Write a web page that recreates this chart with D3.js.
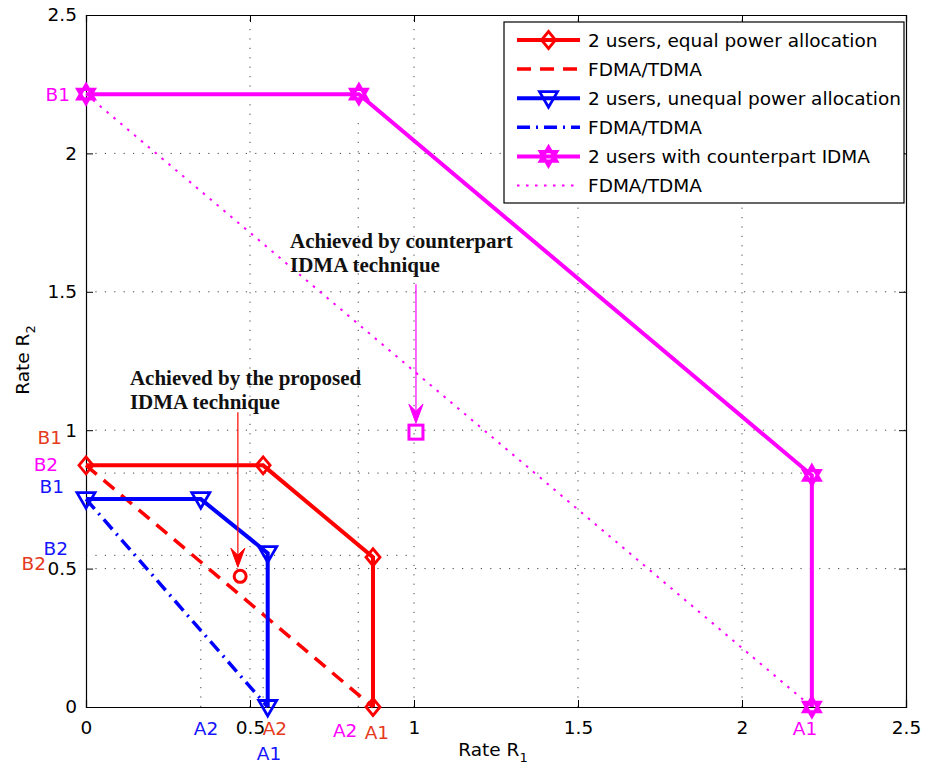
<!DOCTYPE html>
<html><head><meta charset="utf-8">
<script src="https://cdn.jsdelivr.net/npm/d3@7"></script>
<style>
body{margin:0;background:#fff;}
svg{display:block;}
</style></head>
<body>
<svg id="chart" width="925" height="771"></svg>
<script>
// ---------- data ----------
const xTicks = [0, 0.5, 1, 1.5, 2, 2.5];
const yTicks = [0, 0.5, 1, 1.5, 2, 2.5];
const xTickLabels = ["0", "0.5", "1", "1.5", "2", "2.5"];
const yTickLabels = ["0", "0.5", "1", "1.5", "2", "2.5"];

const equalX = [0, 0.54, 0.875, 0.875];
const equalY = [0.873, 0.873, 0.541, 0];
const equalFdmaX = [0, 0.875];
const equalFdmaY = [0.873, 0];

const unequalX = [0, 0.35, 0.554, 0.554];
const unequalY = [0.751, 0.751, 0.556, 0];
const unequalFdmaX = [0, 0.554];
const unequalFdmaY = [0.751, 0];

const counterX = [0, 0.832, 2.213, 2.213];
const counterY = [2.214, 2.214, 0.837, 0];
const counterFdmaX = [0, 2.213];
const counterFdmaY = [2.214, 0];

const proposedPoint = [0.47, 0.472];
const counterPoint = [1.006, 0.993];

const legendLabels = ["2 users, equal power allocation", "FDMA/TDMA",
  "2 users, unequal power allocation", "FDMA/TDMA",
  "2 users with counterpart IDMA", "FDMA/TDMA"];

const extraGridX = [0.35, 0.54, 0.83];
const extraGridXTop = [0.72, 0.85, 2.12];
const extraGridY = [0.845, 0.548];
const extraGridYRight = [2.2, 1.0];

const pointLabelText = ["B1", "B1", "B2", "B1", "B2", "B2", "A2", "A2", "A1", "A2", "A1", "A1"];
const pointLabelSeries = ["c", "e", "c", "u", "u", "e", "u", "e", "u", "c", "e", "c"];
const pointLabelX = [-0.049, -0.073, -0.085, -0.067, -0.055, -0.122, 0.366, 0.576, 0.558, 0.79, 0.887, 2.192];
const pointLabelY = [2.214, 0.975, 0.877, 0.798, 0.574, 0.519, -0.077, -0.077, -0.167, -0.084, -0.091, -0.077];
const pointLabelAnchor = ["end", "end", "end", "end", "end", "end", "middle", "middle", "middle", "middle", "middle", "middle"];

// ---------- setup ----------
const svg = d3.select("#chart");
const W = 925, H = 771;
const m = {left: 86, right: 19, top: 15, bottom: 64};
const x = d3.scaleLinear().domain([0, 2.5]).range([m.left, W - m.right]);
const y = d3.scaleLinear().domain([0, 2.5]).range([H - m.bottom, m.top]);

const colors = {e: "#ff0000", u: "#0000ff", c: "#ff00ff"};
const labelColors = {e: "#e53a1c", u: "#1414ff", c: "#ff00ff"};
const sansFont = "'DejaVu Sans', Arial, sans-serif";

// ---------- grid ----------
const grid = svg.append("g").attr("stroke", "#444").attr("stroke-width", 1)
  .attr("stroke-dasharray", "1.2,8.2");
xTicks.slice(1, -1).forEach(v => grid.append("line")
  .attr("x1", x(v)).attr("x2", x(v)).attr("y1", y(0)).attr("y2", y(2.5)));
yTicks.slice(1, -1).forEach(v => grid.append("line")
  .attr("x1", x(0)).attr("x2", x(2.5)).attr("y1", y(v)).attr("y2", y(v)));
extraGridX.forEach((v, i) => grid.append("line")
  .attr("x1", x(v)).attr("x2", x(v)).attr("y1", y(0)).attr("y2", y(extraGridXTop[i])));
extraGridY.forEach((v, i) => grid.append("line")
  .attr("x1", x(0)).attr("x2", x(extraGridYRight[i])).attr("y1", y(v)).attr("y2", y(v)));

// ---------- axes ----------
function styleAxis(g, showText) {
  g.select(".domain").attr("stroke", "#000").attr("stroke-width", 1.2);
  g.selectAll(".tick line").attr("stroke", "#000");
  g.selectAll(".tick text").attr("font-family", sansFont).attr("font-size", 18.5).attr("fill", "#000");
  if (!showText) g.selectAll(".tick text").remove();
}
svg.append("g").attr("transform", `translate(0,${y(0)})`)
  .call(d3.axisBottom(x).tickValues(xTicks).tickSize(-7).tickPadding(14)
    .tickFormat((d, i) => xTickLabels[i]))
  .call(g => styleAxis(g, true));
svg.append("g").attr("transform", `translate(0,${y(2.5)})`)
  .call(d3.axisTop(x).tickValues(xTicks).tickSize(-7))
  .call(g => styleAxis(g, false));
svg.append("g").attr("transform", `translate(${x(0)},0)`)
  .call(d3.axisLeft(y).tickValues(yTicks).tickSize(-7).tickPadding(9)
    .tickFormat((d, i) => yTickLabels[i]))
  .call(g => styleAxis(g, true));
svg.append("g").attr("transform", `translate(${x(2.5)},0)`)
  .call(d3.axisRight(y).tickValues(yTicks).tickSize(-7))
  .call(g => styleAxis(g, false));

// axis titles
const xt = svg.append("text").attr("x", 493).attr("y", 756).attr("text-anchor", "middle")
  .attr("font-family", sansFont).attr("font-size", 18.5);
xt.append("tspan").text("Rate R");
xt.append("tspan").attr("font-size", 13).attr("dy", 6).text("1");
const yt = svg.append("text").attr("transform", "translate(29,360) rotate(-90)")
  .attr("text-anchor", "middle").attr("font-family", sansFont).attr("font-size", 18.5);
yt.append("tspan").text("Rate R");
yt.append("tspan").attr("font-size", 13).attr("dy", 6).text("2");

// ---------- markers ----------
function diamond(g, cx, cy, col) {
  g.append("path").attr("d", `M${cx},${cy - 8.5}L${cx + 7},${cy}L${cx},${cy + 8.5}L${cx - 7},${cy}Z`)
    .attr("fill", "none").attr("stroke", col).attr("stroke-width", 2.8);
}
function triDown(g, cx, cy, col) {
  g.append("path").attr("d", `M${cx - 9},${cy - 6.5}L${cx + 9},${cy - 6.5}L${cx},${cy + 9}Z`)
    .attr("fill", "none").attr("stroke", col).attr("stroke-width", 2.8);
}
function hexagram(g, cx, cy, col) {
  const r = 9.5;
  const pt = a => [cx + r * Math.cos(a * Math.PI / 180), cy + r * Math.sin(a * Math.PI / 180)];
  const t1 = [-90, 30, 150].map(pt), t2 = [90, 210, 330].map(pt);
  const p = t => "M" + t.map(q => q.join(",")).join("L") + "Z";
  g.append("path").attr("d", p(t1) + p(t2))
    .attr("fill", "none").attr("stroke", col).attr("stroke-width", 3.2).attr("stroke-linejoin", "miter");
}

const line = d3.line().x(d => x(d[0])).y(d => y(d[1]));
const zip = (a, b) => a.map((v, i) => [v, b[i]]);
const plot = svg.append("g");

// FDMA lines
plot.append("path").attr("d", line(zip(counterFdmaX, counterFdmaY))).attr("fill", "none")
  .attr("stroke", colors.c).attr("stroke-width", 2).attr("stroke-dasharray", "2.5,6.5");
plot.append("path").attr("d", line(zip(equalFdmaX, equalFdmaY))).attr("fill", "none")
  .attr("stroke", colors.e).attr("stroke-width", 3.5).attr("stroke-dasharray", "14,9");
plot.append("path").attr("d", line(zip(unequalFdmaX, unequalFdmaY))).attr("fill", "none")
  .attr("stroke", colors.u).attr("stroke-width", 3.5).attr("stroke-dasharray", "13,6,2,6");

// main lines
[[equalX, equalY, "e", diamond], [unequalX, unequalY, "u", triDown], [counterX, counterY, "c", hexagram]]
  .forEach(([xs, ys, k, mk]) => {
    const pts = zip(xs, ys);
    plot.append("path").attr("d", line(pts)).attr("fill", "none")
      .attr("stroke", colors[k]).attr("stroke-width", 4);
    pts.forEach(p => mk(plot, x(p[0]), y(p[1]), colors[k]));
  });

// special points
plot.append("circle").attr("cx", x(proposedPoint[0])).attr("cy", y(proposedPoint[1])).attr("r", 6)
  .attr("fill", "none").attr("stroke", colors.e).attr("stroke-width", 3);
plot.append("rect").attr("x", x(counterPoint[0]) - 7).attr("y", y(counterPoint[1]) - 7)
  .attr("width", 14).attr("height", 14)
  .attr("fill", "none").attr("stroke", colors.c).attr("stroke-width", 3);

// ---------- annotations ----------
function arrow(x0, y0, y1, col) {
  const px = x(x0), py0 = y(y0), py1 = y(y1);
  svg.append("line").attr("x1", px).attr("x2", px).attr("y1", py0).attr("y2", py1 - 10)
    .attr("stroke", col).attr("stroke-width", 1.2);
  svg.append("path").attr("d", `M${px},${py1}L${px - 7},${py1 - 19}L${px},${py1 - 12}L${px + 7},${py1 - 19}Z`)
    .attr("fill", col).attr("stroke", col).attr("stroke-width", 1);
}
arrow(0.463, 1.065, 0.505, colors.e);
arrow(1.006, 1.527, 1.025, colors.c);

const serif = "'Liberation Serif', 'Times New Roman', serif";
function note(xv, yv, lines) {
  const t = svg.append("text").attr("font-family", serif).attr("font-weight", "bold")
    .attr("font-size", 21).attr("fill", "#111");
  lines.forEach((s, i) => t.append("tspan").attr("x", x(xv)).attr("y", y(yv) + i * 24).text(s));
}
note(0.622, 1.658, ["Achieved by counterpart", "IDMA technique"]);
note(0.134, 1.164, ["Achieved by the proposed", "IDMA technique"]);

// point labels
pointLabelText.forEach((s, i) => {
  svg.append("text").attr("x", x(pointLabelX[i])).attr("y", y(pointLabelY[i])).attr("dy", "0.36em")
    .attr("text-anchor", pointLabelAnchor[i]).attr("font-family", sansFont).attr("font-size", 18.5)
    .attr("fill", labelColors[pointLabelSeries[i]]).text(s);
});

// ---------- legend ----------
const lg = svg.append("g");
lg.append("rect").attr("x", 504).attr("y", 22).attr("width", 400).attr("height", 181)
  .attr("fill", "#fff").attr("stroke", "#000").attr("stroke-width", 1.2);
const legKeys = ["e", "e", "u", "u", "c", "c"];
const legDash = [null, "14,9", null, "13,6,2,6", null, "2.5,6.5"];
const legWidth = [4, 3.5, 4, 3.5, 4, 2];
const legMk = [diamond, null, triDown, null, hexagram, null];
legendLabels.forEach((s, i) => {
  const cy = 40 + i * 29.1;
  const l = lg.append("line").attr("x1", 517).attr("x2", 580).attr("y1", cy).attr("y2", cy)
    .attr("stroke", colors[legKeys[i]]).attr("stroke-width", legWidth[i]);
  if (legDash[i]) l.attr("stroke-dasharray", legDash[i]);
  if (legMk[i]) legMk[i](lg, 548.5, cy, colors[legKeys[i]]);
  lg.append("text").attr("x", 588).attr("y", cy).attr("dy", "0.36em")
    .attr("font-family", sansFont).attr("font-size", 18.5).attr("fill", "#000").text(s);
});
</script>
</body></html>
